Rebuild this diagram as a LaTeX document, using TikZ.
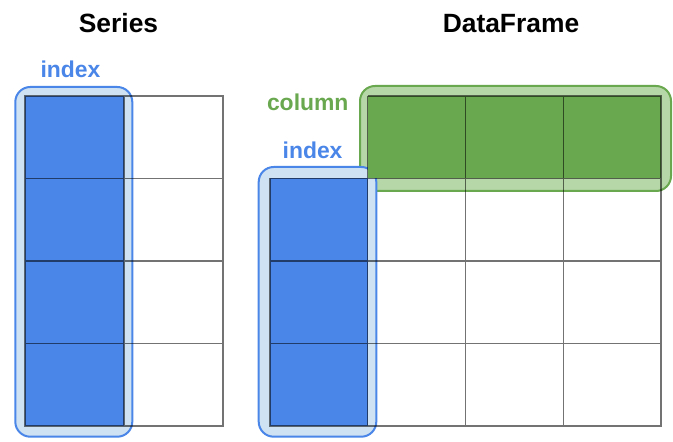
\documentclass[tikz,border=0pt]{standalone}
\usepackage{fontspec}
\setmainfont{Liberation Sans}
\definecolor{idxblue}{HTML}{4A86E8}
\definecolor{idxpale}{HTML}{CFE2F3}
\definecolor{colgreen}{HTML}{6AA84F}
\definecolor{colpale}{HTML}{B6D7A8}
\usetikzlibrary{positioning}
\begin{document}
\begin{tikzpicture}[x=1bp,y=-1bp,
  title/.style={font=\fontsize{26.5}{30}\selectfont\bfseries,anchor=base},
  tag/.style={font=\fontsize{23}{27}\selectfont\bfseries,anchor=base},
  halo/.style={rounded corners=15bp,line width=2bp},
  gridline/.style={draw=black,draw opacity=0.55,line width=1.2bp}]
\useasboundingbox (0,0) rectangle (673,442);
% titles
\node[title] (series) at (118.5,33) {Series};
\node[title] (frame) at (511,33) {DataFrame};
% highlight boxes
\draw[halo,draw=colgreen,fill=colpale] (360,86) rectangle (671,191);
\draw[halo,draw=idxblue,fill=idxpale] (15.3,87) rectangle (132.3,436.7);
\draw[halo,draw=idxblue,fill=idxpale] (258.7,167) rectangle (376.3,436.7);
\node[tag,text=idxblue] (sindex) at (70.5,78) {index};
\node[tag,text=colgreen,anchor=base east] (fcolumn) at (352,111) {column};
\node[tag,text=idxblue,anchor=base east] (findex) at (346,159) {index};
% cell fills
\fill[idxblue] (25,96) rectangle (124,426);
\fill[colgreen] (367.75,96) rectangle (661,178.5);
\fill[idxblue] (270,178.5) rectangle (367.75,426);
% series grid
\draw[gridline] (25,96) rectangle (223,426)
  \foreach \r in {1,2,3} { (25,96+82.5*\r) -- (223,96+82.5*\r) }
  (124,96) -- (124,426);
% dataframe grid
\draw[gridline] (367.75,96) -- (661,96) -- (661,426) -- (270,426) -- (270,178.5)
  \foreach \r in {1,2,3} { (270,96+82.5*\r) -- (661,96+82.5*\r) }
  \foreach \c in {1,2,3} { (270+97.75*\c,96) -- (270+97.75*\c,426) };
\end{tikzpicture}
\end{document}
